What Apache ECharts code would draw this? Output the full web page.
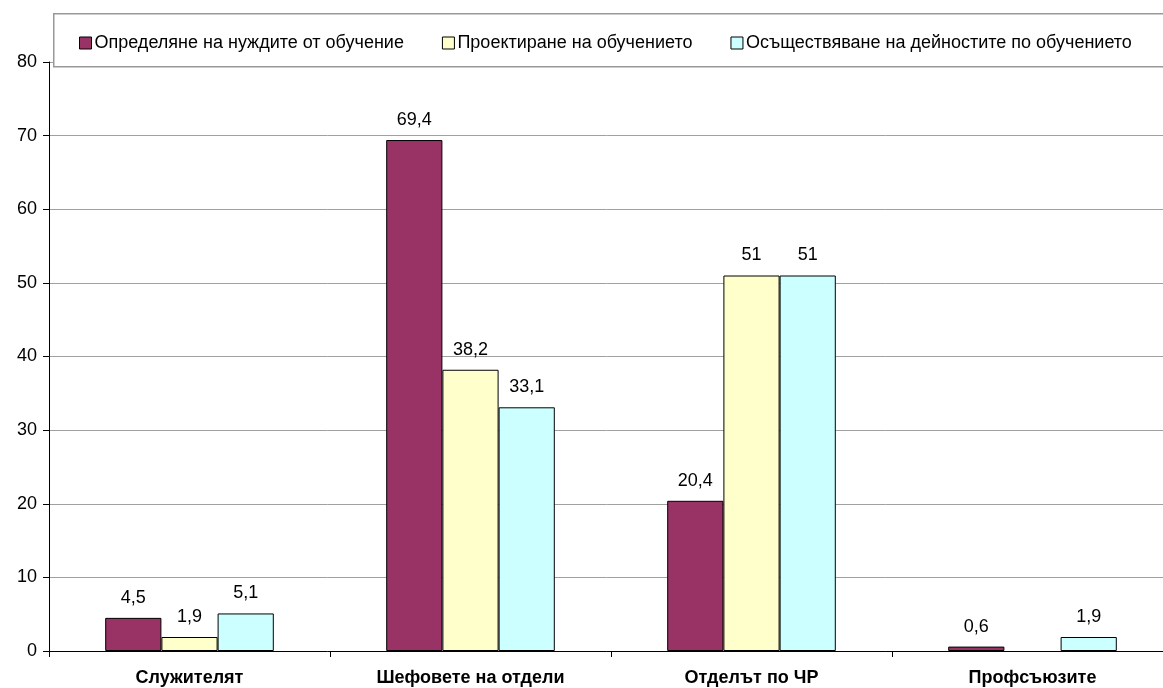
<!DOCTYPE html>
<html>
<head>
    <meta charset="utf-8">
    <title>Обучение</title>
    <script src="https://cdn.jsdelivr.net/npm/echarts@6/dist/echarts.min.js"></script>
    <style>
        * { margin: 0; padding: 0; }
        body { background: #fff; }
    </style>
</head>
<body>
    <div id="chart" style="width: 1163px; height: 688px;"></div>
    <script>
        // данни
        var categories = ['Служителят', 'Шефовете на отдели', 'Отделът по ЧР', 'Профсъюзите'];
        var seriesNames = ['Определяне на нуждите от обучение', 'Проектиране на обучението', 'Осъществяване на дейностите по обучението'];
        var needsData = [4.5, 69.4, 20.4, 0.6];
        var designData = [1.9, 38.2, 51, null];
        var deliveryData = [5.1, 33.1, 51, 1.9];
        var colors = ['#993366', '#FFFFCC', '#CCFFFF'];

        var font = 'Liberation Sans, Arial, sans-serif';

        function makeSeries(name, data, color) {
            return {
                name: name,
                type: 'bar',
                data: data,
                barGap: '0%',
                barCategoryGap: '40%',
                itemStyle: { color: color, borderColor: '#000', borderWidth: 1 },
                label: {
                    show: true,
                    position: 'top',
                    distance: 11,
                    color: '#000',
                    fontSize: 18,
                    fontFamily: font,
                    formatter: function (p) { return String(p.value).replace('.', ','); }
                }
            };
        }

        var chart = echarts.init(document.getElementById('chart'));
        chart.setOption({
            animation: false,
            grid: { left: 49, right: -10, top: 62, bottom: 37, outerBoundsMode: 'none' },
            graphic: [{
                type: 'rect',
                left: 53, top: 13,
                shape: { width: 1130, height: 53 },
                style: { fill: '#fff', stroke: '#999', lineWidth: 1.5 },
                z: 10
            }],
            legend: {
                left: 74, top: 29,
                z: 20,
                itemWidth: 12, itemHeight: 12,
                itemGap: 38,
                icon: 'rect',
                textStyle: { color: '#000', fontSize: 18, fontFamily: font, padding: [0, 0, 0, -2] },
                data: seriesNames.map(function (n) {
                    return { name: n, itemStyle: { borderColor: '#000', borderWidth: 1 } };
                })
            },
            xAxis: {
                type: 'category',
                data: categories,
                axisLine: { lineStyle: { color: '#000', width: 1 } },
                axisTick: { show: true, length: 6, lineStyle: { color: '#000' } },
                axisLabel: { color: '#000', fontSize: 18, fontWeight: 'bold', fontFamily: font, margin: 18 }
            },
            yAxis: {
                type: 'value',
                min: 0, max: 80, interval: 10,
                axisLine: { show: true, lineStyle: { color: '#000', width: 1 } },
                axisTick: { show: true, length: 6, lineStyle: { color: '#000' } },
                axisLabel: { color: '#000', fontSize: 18, fontFamily: font, margin: 12 },
                splitLine: { lineStyle: { color: '#a0a0a0', width: 1 } }
            },
            series: [
                makeSeries(seriesNames[0], needsData, colors[0]),
                makeSeries(seriesNames[1], designData, colors[1]),
                makeSeries(seriesNames[2], deliveryData, colors[2])
            ]
        });
    </script>
</body>
</html>
